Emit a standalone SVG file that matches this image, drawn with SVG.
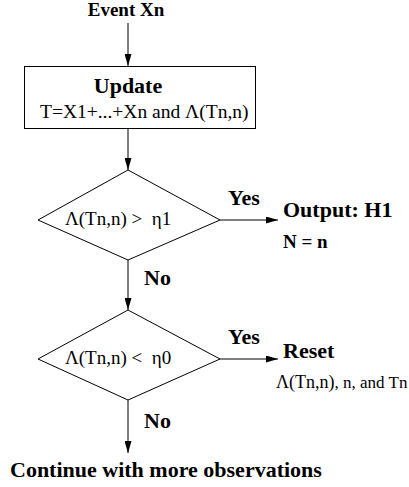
<svg xmlns="http://www.w3.org/2000/svg" width="409" height="487" viewBox="0 0 409 487">
<style>
text{font-family:"Liberation Serif","Times New Roman",serif;fill:#000}
.b{font-weight:bold}
.shape{fill:#fff;stroke:#000;stroke-width:1}
.conn{stroke:#000;stroke-width:1;fill:none;marker-end:url(#ah)}
</style>
<defs>
<marker id="ah" markerUnits="userSpaceOnUse" markerWidth="12" markerHeight="7" refX="12" refY="3.5" orient="auto">
<path d="M0,0 L12,3.5 L0,7 z" fill="#000"/>
</marker>
</defs>
<g id="start">
<text class="b" x="126" y="16" font-size="19" text-anchor="middle">Event Xn</text>
</g>
<g id="update">
<rect class="shape" x="24.5" y="66.5" width="231" height="62"/>
<text class="b" x="128" y="93" font-size="22" text-anchor="middle">Update</text>
<text x="40" y="118" font-size="19.5">T=X1+...+Xn and Λ(Tn,n)</text>
</g>
<g id="decision1">
<polygon class="shape" points="128,170 220,220 128,260 38,220"/>
<text x="65" y="225" font-size="19">Λ(Tn,n) &gt; &#160;η1</text>
</g>
<g id="output">
<text class="b" x="283" y="217" font-size="22">Output: H1</text>
<text class="b" x="283" y="248" font-size="19">N = n</text>
</g>
<g id="decision2">
<polygon class="shape" points="128,310 220,359 128,400 38,359"/>
<text x="65" y="364" font-size="19">Λ(Tn,n) &lt; &#160;η0</text>
</g>
<g id="reset">
<text class="b" x="283" y="358" font-size="22">Reset</text>
<text x="276" y="388" font-size="18">Λ(Tn,n)<tspan font-size="17">, n, and Tn</tspan></text>
</g>
<g id="continue">
<text class="b" x="10" y="477" font-size="22">Continue with more observations</text>
</g>
<g id="connectors">
<line class="conn" x1="128" y1="23" x2="128" y2="66"/>
<line class="conn" x1="128" y1="129" x2="128" y2="170"/>
<line class="conn" x1="128" y1="260" x2="128" y2="310"/>
<line class="conn" x1="128" y1="400" x2="128" y2="453"/>
<line class="conn" x1="220" y1="220" x2="278" y2="220"/>
<line class="conn" x1="220" y1="359" x2="278" y2="359"/>
<text class="b" x="228" y="205" font-size="22">Yes</text>
<text class="b" x="144" y="285" font-size="22">No</text>
<text class="b" x="228" y="344" font-size="22">Yes</text>
<text class="b" x="144" y="428" font-size="22">No</text>
</g>
</svg>
